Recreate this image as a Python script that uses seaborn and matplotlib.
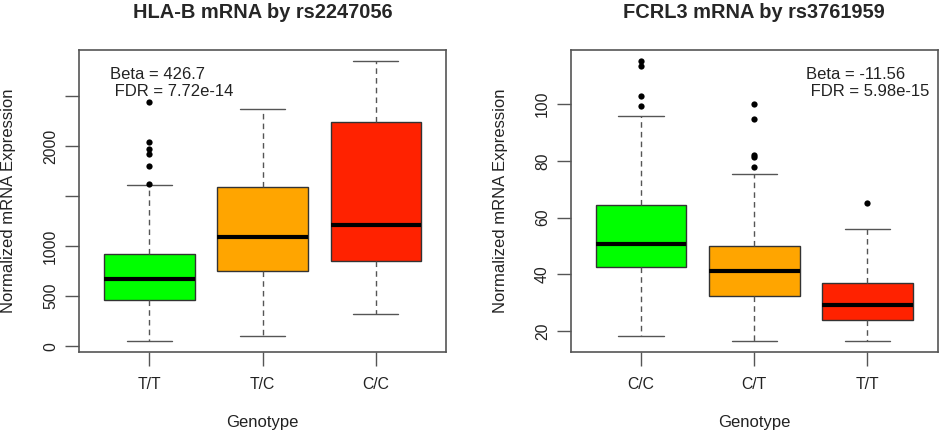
import pandas as pd
import matplotlib
matplotlib.use("Agg")
import matplotlib.pyplot as plt
import seaborn as sns

# HLA-B by rs2247056
hla_genotypes = ["T/T", "T/C", "C/C"]
hla_whislo = [53, 103, 323]
hla_q1 = [460, 753, 853]
hla_median = [670, 1090, 1213]
hla_q3 = [920, 1590, 2243]
hla_whishi = [1607, 2370, 2850]
hla_outlier_geno = ["T/T", "T/T", "T/T", "T/T", "T/T", "T/T"]
hla_outlier_vals = [1623, 1800, 1923, 1967, 2037, 2437]

# FCRL3 by rs3761959
fcrl_genotypes = ["C/C", "C/T", "T/T"]
fcrl_whislo = [18.2, 16.5, 16.5]
fcrl_q1 = [42.4, 32.4, 24.0]
fcrl_median = [50.8, 41.3, 29.1]
fcrl_q3 = [64.4, 49.9, 36.8]
fcrl_whishi = [95.9, 75.2, 55.8]
fcrl_outlier_geno = ["C/C", "C/C", "C/C", "C/C",
                     "C/T", "C/T", "C/T", "C/T", "C/T", "T/T"]
fcrl_outlier_vals = [115.3, 113.3, 102.9, 99.3,
                     100.1, 94.7, 82.1, 81.4, 77.9, 65.3]

box_colors = ["#00FF00", "#FFA500", "#FF2200"]

sns.set_style("white")
plt.rcParams["font.family"] = ["Liberation Sans", "DejaVu Sans"]


def five_num_frame(genos, lo, q1, med, q3, hi):
    rows = []
    for i, g in enumerate(genos):
        for v in (lo[i], q1[i], med[i], q3[i], hi[i]):
            rows.append({"Genotype": g, "value": v})
    return pd.DataFrame(rows)


def draw_panel(ax, genos, box_df, out_df, title, note, note_x, yticks, ylabels, ylim):
    sns.boxplot(data=box_df, x="Genotype", y="value", hue="Genotype",
                order=genos, hue_order=genos, palette=box_colors,
                saturation=1, width=0.8, whis=(0, 100), showfliers=False,
                legend=False, ax=ax,
                boxprops={"edgecolor": "#333333", "linewidth": 1.0},
                medianprops={"color": "black", "linewidth": 3},
                whiskerprops={"color": "#555555", "linewidth": 1.0,
                              "linestyle": (0, (4, 3))},
                capprops={"color": "#555555", "linewidth": 1.0})
    sns.stripplot(data=out_df, x="Genotype", y="value", order=genos,
                  jitter=False, color="black", size=4.5, ax=ax, zorder=5)

    ax.set_xlim(-0.62, 2.62)
    ax.set_ylim(*ylim)
    ax.set_yticks(yticks)
    ax.set_yticklabels(ylabels)
    for lab in ax.get_yticklabels():
        lab.set_rotation(90)
        lab.set_va("center")
    ax.tick_params(axis="both", direction="out", length=10, width=1,
                   color="#555555", labelsize=11.3, labelcolor="#222222",
                   bottom=True, left=True)
    ax.tick_params(axis="y", pad=5)
    ax.tick_params(axis="x", pad=8)
    for sp in ax.spines.values():
        sp.set_visible(True)
        sp.set_color("#555555")
        sp.set_linewidth(1.2)

    ax.set_xlabel("Genotype", fontsize=12, color="#222222")
    ax.set_ylabel("Normalized mRNA Expression", fontsize=12, color="#222222")
    ax.xaxis.set_label_coords(0.5, -0.209)
    ax.yaxis.set_label_coords(-0.172, 0.5)
    ax.set_title(title, fontsize=14.4, fontweight="bold", pad=23)
    ax.text(note_x, 0.891, note, transform=ax.transAxes, ha="left",
            va="center", fontsize=12, color="#222222", linespacing=1.2)


fig = plt.figure(figsize=(9.41, 4.36), dpi=100)
ax1 = fig.add_axes([0.0840, 0.1927, 0.390, 0.6927])
ax2 = fig.add_axes([0.6065, 0.1927, 0.390, 0.6927])

hla_box = five_num_frame(hla_genotypes, hla_whislo, hla_q1, hla_median,
                         hla_q3, hla_whishi)
hla_out = pd.DataFrame({"Genotype": hla_outlier_geno, "value": hla_outlier_vals})
draw_panel(ax1, hla_genotypes, hla_box, hla_out, "HLA-B mRNA by rs2247056",
           "Beta = 426.7\n FDR = 7.72e-14", 0.0845,
           [0, 500, 1000, 1500, 2000, 2500],
           ["0", "500", "1000", "", "2000", ""], (-59, 2962))

fcrl_box = five_num_frame(fcrl_genotypes, fcrl_whislo, fcrl_q1, fcrl_median,
                          fcrl_q3, fcrl_whishi)
fcrl_out = pd.DataFrame({"Genotype": fcrl_outlier_geno, "value": fcrl_outlier_vals})
draw_panel(ax2, fcrl_genotypes, fcrl_box, fcrl_out, "FCRL3 mRNA by rs3761959",
           "Beta = -11.56\n FDR = 5.98e-15", 0.641,
           [20, 40, 60, 80, 100],
           ["20", "40", "60", "80", "100"], (12.6, 119.1))

fig.savefig("out.png", dpi=100)
